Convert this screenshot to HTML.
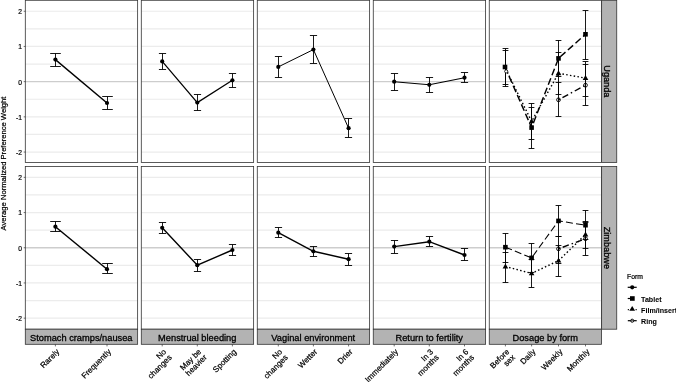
<!DOCTYPE html>
<html><head><meta charset="utf-8"><title>Preference weights</title>
<style>html,body{margin:0;padding:0;background:#fff}svg{display:block}</style></head>
<body>
<svg width="676" height="382" viewBox="0 0 676 382" font-family='"Liberation Sans", Arial, sans-serif' stroke-linecap="butt">
<style>text{stroke:#000;stroke-width:0.22px;fill:#000}</style>
<rect width="676" height="382" fill="#fff"/>
<path d="M25.30 152.05H137.64M25.30 134.45H137.64M25.30 116.85H137.64M25.30 99.25H137.64M25.30 64.05H137.64M25.30 46.45H137.64M25.30 28.85H137.64M25.30 11.25H137.64" stroke="#ececec" stroke-width="1.2" fill="none"/>
<path d="M25.30 81.65H137.64" stroke="#cdcdcd" stroke-width="1.3" fill="none"/>
<path d="M141.29 152.05H253.63M141.29 134.45H253.63M141.29 116.85H253.63M141.29 99.25H253.63M141.29 64.05H253.63M141.29 46.45H253.63M141.29 28.85H253.63M141.29 11.25H253.63" stroke="#ececec" stroke-width="1.2" fill="none"/>
<path d="M141.29 81.65H253.63" stroke="#cdcdcd" stroke-width="1.3" fill="none"/>
<path d="M257.28 152.05H369.62M257.28 134.45H369.62M257.28 116.85H369.62M257.28 99.25H369.62M257.28 64.05H369.62M257.28 46.45H369.62M257.28 28.85H369.62M257.28 11.25H369.62" stroke="#ececec" stroke-width="1.2" fill="none"/>
<path d="M257.28 81.65H369.62" stroke="#cdcdcd" stroke-width="1.3" fill="none"/>
<path d="M373.27 152.05H485.61M373.27 134.45H485.61M373.27 116.85H485.61M373.27 99.25H485.61M373.27 64.05H485.61M373.27 46.45H485.61M373.27 28.85H485.61M373.27 11.25H485.61" stroke="#ececec" stroke-width="1.2" fill="none"/>
<path d="M373.27 81.65H485.61" stroke="#cdcdcd" stroke-width="1.3" fill="none"/>
<path d="M489.26 152.05H601.60M489.26 134.45H601.60M489.26 116.85H601.60M489.26 99.25H601.60M489.26 64.05H601.60M489.26 46.45H601.60M489.26 28.85H601.60M489.26 11.25H601.60" stroke="#ececec" stroke-width="1.2" fill="none"/>
<path d="M489.26 81.65H601.60" stroke="#cdcdcd" stroke-width="1.3" fill="none"/>
<path d="M25.30 318.15H137.64M25.30 300.55H137.64M25.30 282.95H137.64M25.30 265.35H137.64M25.30 230.15H137.64M25.30 212.55H137.64M25.30 194.95H137.64M25.30 177.35H137.64" stroke="#ececec" stroke-width="1.2" fill="none"/>
<path d="M25.30 247.75H137.64" stroke="#cdcdcd" stroke-width="1.3" fill="none"/>
<path d="M141.29 318.15H253.63M141.29 300.55H253.63M141.29 282.95H253.63M141.29 265.35H253.63M141.29 230.15H253.63M141.29 212.55H253.63M141.29 194.95H253.63M141.29 177.35H253.63" stroke="#ececec" stroke-width="1.2" fill="none"/>
<path d="M141.29 247.75H253.63" stroke="#cdcdcd" stroke-width="1.3" fill="none"/>
<path d="M257.28 318.15H369.62M257.28 300.55H369.62M257.28 282.95H369.62M257.28 265.35H369.62M257.28 230.15H369.62M257.28 212.55H369.62M257.28 194.95H369.62M257.28 177.35H369.62" stroke="#ececec" stroke-width="1.2" fill="none"/>
<path d="M257.28 247.75H369.62" stroke="#cdcdcd" stroke-width="1.3" fill="none"/>
<path d="M373.27 318.15H485.61M373.27 300.55H485.61M373.27 282.95H485.61M373.27 265.35H485.61M373.27 230.15H485.61M373.27 212.55H485.61M373.27 194.95H485.61M373.27 177.35H485.61" stroke="#ececec" stroke-width="1.2" fill="none"/>
<path d="M373.27 247.75H485.61" stroke="#cdcdcd" stroke-width="1.3" fill="none"/>
<path d="M489.26 318.15H601.60M489.26 300.55H601.60M489.26 282.95H601.60M489.26 265.35H601.60M489.26 230.15H601.60M489.26 212.55H601.60M489.26 194.95H601.60M489.26 177.35H601.60" stroke="#ececec" stroke-width="1.2" fill="none"/>
<path d="M489.26 247.75H601.60" stroke="#cdcdcd" stroke-width="1.3" fill="none"/>
<path d="M50.2 53.5H60.8M50.2 66.5H60.8M55.5 53.5V66.5M102.2 96.5H112.8M102.2 109.5H112.8M107.5 96.5V109.5" stroke="#000" stroke-width="0.9" fill="none"/>
<path d="M158.9 53.5H166.1M158.9 69.5H166.1M162.5 53.5V69.5M193.9 94.5H201.1M193.9 110.5H201.1M197.5 94.5V110.5M228.9 73.5H236.1M228.9 87.5H236.1M232.5 73.5V87.5" stroke="#000" stroke-width="0.9" fill="none"/>
<path d="M274.9 56.5H282.1M274.9 77.5H282.1M278.5 56.5V77.5M309.9 35.5H317.1M309.9 63.5H317.1M313.5 35.5V63.5M344.9 118.5H352.1M344.9 137.5H352.1M348.5 118.5V137.5" stroke="#000" stroke-width="0.9" fill="none"/>
<path d="M390.9 73.5H398.1M390.9 90.5H398.1M394.5 73.5V90.5M425.9 77.5H433.1M425.9 92.5H433.1M429.5 77.5V92.5M460.9 72.5H468.1M460.9 82.5H468.1M464.5 72.5V82.5" stroke="#000" stroke-width="0.9" fill="none"/>
<path d="M50.2 221.5H60.8M50.2 231.5H60.8M55.5 221.5V231.5M102.2 263.5H112.8M102.2 273.5H112.8M107.5 263.5V273.5" stroke="#000" stroke-width="0.9" fill="none"/>
<path d="M158.9 222.5H166.1M158.9 233.5H166.1M162.5 222.5V233.5M193.9 259.5H201.1M193.9 271.5H201.1M197.5 259.5V271.5M228.9 244.5H236.1M228.9 255.5H236.1M232.5 244.5V255.5" stroke="#000" stroke-width="0.9" fill="none"/>
<path d="M274.9 227.5H282.1M274.9 237.5H282.1M278.5 227.5V237.5M309.9 246.5H317.1M309.9 256.5H317.1M313.5 246.5V256.5M344.9 253.5H352.1M344.9 265.5H352.1M348.5 253.5V265.5" stroke="#000" stroke-width="0.9" fill="none"/>
<path d="M390.9 240.5H398.1M390.9 253.5H398.1M394.5 240.5V253.5M425.9 236.5H433.1M425.9 246.5H433.1M429.5 236.5V246.5M460.9 248.5H468.1M460.9 260.5H468.1M464.5 248.5V260.5" stroke="#000" stroke-width="0.9" fill="none"/>
<path d="M502.6 48.5H508.4M502.6 84.5H508.4M505.5 48.5V84.5M528.6 107.5H534.4M528.6 148.5H534.4M531.5 107.5V148.5M555.6 40.5H561.4M555.6 76.5H561.4M558.5 40.5V76.5M582.6 10.5H588.4M582.6 59.5H588.4M585.5 10.5V59.5" stroke="#000" stroke-width="0.9" fill="none"/>
<path d="M502.6 50.5H508.4M502.6 86.5H508.4M505.5 50.5V86.5M528.6 103.5H534.4M528.6 139.5H534.4M531.5 103.5V139.5M555.6 52.5H561.4M555.6 94.5H561.4M558.5 52.5V94.5M582.6 61.5H588.4M582.6 96.5H588.4M585.5 61.5V96.5" stroke="#000" stroke-width="0.9" fill="none"/>
<path d="M555.6 82.5H561.4M555.6 116.5H561.4M558.5 82.5V116.5M582.6 64.5H588.4M582.6 105.5H588.4M585.5 64.5V105.5" stroke="#000" stroke-width="0.9" fill="none"/>
<path d="M502.6 233.5H508.4M502.6 262.5H508.4M505.5 233.5V262.5M528.6 243.5H534.4M528.6 272.5H534.4M531.5 243.5V272.5M555.6 205.5H561.4M555.6 236.5H561.4M558.5 205.5V236.5M582.6 210.5H588.4M582.6 239.5H588.4M585.5 210.5V239.5" stroke="#000" stroke-width="0.9" fill="none"/>
<path d="M502.6 252.5H508.4M502.6 282.5H508.4M505.5 252.5V282.5M528.6 259.5H534.4M528.6 287.5H534.4M531.5 259.5V287.5M555.6 245.5H561.4M555.6 276.5H561.4M558.5 245.5V276.5M582.6 222.5H588.4M582.6 248.5H588.4M585.5 222.5V248.5" stroke="#000" stroke-width="0.9" fill="none"/>
<path d="M555.6 236.5H561.4M555.6 263.5H561.4M558.5 236.5V263.5M582.6 221.5H588.4M582.6 255.5H588.4M585.5 221.5V255.5" stroke="#000" stroke-width="0.9" fill="none"/>
<path d="M55.4 59.6L107.0 103.0" stroke="#000" stroke-width="1.4" fill="none"/>
<path d="M162.2 61.4L197.3 102.6L232.4 80.3" stroke="#000" stroke-width="1.25" fill="none"/>
<path d="M278.3 66.9L313.4 49.6L348.6 128.2" stroke="#000" stroke-width="1.0" fill="none"/>
<path d="M394.2 81.7L429.3 84.8L464.5 77.7" stroke="#000" stroke-width="1.05" fill="none"/>
<path d="M55.4 226.7L107.0 269.2" stroke="#000" stroke-width="1.4" fill="none"/>
<path d="M162.2 227.8L197.3 265.2L232.4 250.0" stroke="#000" stroke-width="1.4" fill="none"/>
<path d="M278.3 232.7L313.4 251.3L348.6 259.2" stroke="#000" stroke-width="1.4" fill="none"/>
<path d="M394.2 246.6L429.3 241.7L464.5 255.0" stroke="#000" stroke-width="1.4" fill="none"/>
<path d="M505.0 67.0L531.6 127.6L558.5 58.4L585.5 34.3" stroke="#000" stroke-width="1.45" fill="none" stroke-dasharray="7 3.2"/>
<path d="M505.6 68.8L531.6 121.4L558.5 73.3L585.5 78.1" stroke="#000" stroke-width="1.4" fill="none" stroke-dasharray="1.5 2.3"/>
<path d="M558.5 99.8L585.5 85.2" stroke="#000" stroke-width="1.4" fill="none" stroke-dasharray="1.5 3 6.5 3"/>
<path d="M505.4 247.2L531.6 257.9L558.5 220.9L585.5 225.2" stroke="#000" stroke-width="1.05" fill="none" stroke-dasharray="7 3.2"/>
<path d="M505.4 266.5L531.6 273.4L558.5 260.7L585.5 234.5" stroke="#000" stroke-width="1.4" fill="none" stroke-dasharray="1.5 2.3"/>
<path d="M558.5 248.8L585.5 238.7" stroke="#000" stroke-width="1.4" fill="none" stroke-dasharray="1.5 3 6.5 3"/>
<circle cx="55.4" cy="59.6" r="2.1" fill="#000"/>
<circle cx="107.0" cy="103.0" r="2.1" fill="#000"/>
<circle cx="162.2" cy="61.4" r="2.1" fill="#000"/>
<circle cx="197.3" cy="102.6" r="2.1" fill="#000"/>
<circle cx="232.4" cy="80.3" r="2.1" fill="#000"/>
<circle cx="278.3" cy="66.9" r="2.1" fill="#000"/>
<circle cx="313.4" cy="49.6" r="2.1" fill="#000"/>
<circle cx="348.6" cy="128.2" r="2.1" fill="#000"/>
<circle cx="394.2" cy="81.7" r="2.1" fill="#000"/>
<circle cx="429.3" cy="84.8" r="2.1" fill="#000"/>
<circle cx="464.5" cy="77.7" r="2.1" fill="#000"/>
<circle cx="55.4" cy="226.7" r="2.1" fill="#000"/>
<circle cx="107.0" cy="269.2" r="2.1" fill="#000"/>
<circle cx="162.2" cy="227.8" r="2.1" fill="#000"/>
<circle cx="197.3" cy="265.2" r="2.1" fill="#000"/>
<circle cx="232.4" cy="250.0" r="2.1" fill="#000"/>
<circle cx="278.3" cy="232.7" r="2.1" fill="#000"/>
<circle cx="313.4" cy="251.3" r="2.1" fill="#000"/>
<circle cx="348.6" cy="259.2" r="2.1" fill="#000"/>
<circle cx="394.2" cy="246.6" r="2.1" fill="#000"/>
<circle cx="429.3" cy="241.7" r="2.1" fill="#000"/>
<circle cx="464.5" cy="255.0" r="2.1" fill="#000"/>
<rect x="502.7" y="64.7" width="4.6" height="4.6" fill="#000"/>
<rect x="529.3" y="125.3" width="4.6" height="4.6" fill="#000"/>
<rect x="556.2" y="56.1" width="4.6" height="4.6" fill="#000"/>
<rect x="583.2" y="32.0" width="4.6" height="4.6" fill="#000"/>
<path d="M531.6 118.4L534.4 123.3H528.8Z" fill="#000"/>
<path d="M558.5 70.3L561.3 75.2H555.7Z" fill="#000"/>
<path d="M585.5 75.1L588.3 80.0H582.7Z" fill="#000"/>
<circle cx="506.2" cy="71.4" r="1.6" fill="#fff" stroke="#000" stroke-width="0.8"/>
<circle cx="558.5" cy="99.8" r="1.9" fill="none" stroke="#000" stroke-width="0.9"/>
<circle cx="585.5" cy="85.2" r="1.9" fill="none" stroke="#000" stroke-width="0.9"/>
<rect x="503.1" y="244.9" width="4.6" height="4.6" fill="#000"/>
<rect x="529.3" y="255.6" width="4.6" height="4.6" fill="#000"/>
<rect x="556.2" y="218.6" width="4.6" height="4.6" fill="#000"/>
<rect x="583.2" y="222.9" width="4.6" height="4.6" fill="#000"/>
<path d="M505.4 263.5L508.2 268.4H502.6Z" fill="#000"/>
<path d="M531.6 270.4L534.4 275.3H528.8Z" fill="#000"/>
<path d="M558.5 257.7L561.3 262.6H555.7Z" fill="#000"/>
<path d="M585.5 231.5L588.3 236.4H582.7Z" fill="#000"/>
<circle cx="558.5" cy="248.8" r="1.9" fill="none" stroke="#000" stroke-width="0.9"/>
<circle cx="585.5" cy="238.7" r="1.9" fill="none" stroke="#000" stroke-width="0.9"/>
<rect x="25.30" y="0.3" width="112.34" height="162.10" fill="none" stroke="#333" stroke-width="0.8"/>
<rect x="141.29" y="0.3" width="112.34" height="162.10" fill="none" stroke="#333" stroke-width="0.8"/>
<rect x="257.28" y="0.3" width="112.34" height="162.10" fill="none" stroke="#333" stroke-width="0.8"/>
<rect x="373.27" y="0.3" width="112.34" height="162.10" fill="none" stroke="#333" stroke-width="0.8"/>
<rect x="489.26" y="0.3" width="112.34" height="162.10" fill="none" stroke="#333" stroke-width="0.8"/>
<rect x="25.30" y="166.5" width="112.34" height="162.70" fill="none" stroke="#333" stroke-width="0.8"/>
<rect x="141.29" y="166.5" width="112.34" height="162.70" fill="none" stroke="#333" stroke-width="0.8"/>
<rect x="257.28" y="166.5" width="112.34" height="162.70" fill="none" stroke="#333" stroke-width="0.8"/>
<rect x="373.27" y="166.5" width="112.34" height="162.70" fill="none" stroke="#333" stroke-width="0.8"/>
<rect x="489.26" y="166.5" width="112.34" height="162.70" fill="none" stroke="#333" stroke-width="0.8"/>
<rect x="25.30" y="329.2" width="112.34" height="15.1" fill="#b3b3b3" stroke="#333" stroke-width="0.8"/>
<text x="81.27" y="340.6" font-size="9.27" style="stroke-width:0.3px" text-anchor="middle" >Stomach cramps/nausea</text>
<rect x="141.29" y="329.2" width="112.34" height="15.1" fill="#b3b3b3" stroke="#333" stroke-width="0.8"/>
<text x="197.26" y="340.6" font-size="9.27" style="stroke-width:0.3px" text-anchor="middle" >Menstrual bleeding</text>
<rect x="257.28" y="329.2" width="112.34" height="15.1" fill="#b3b3b3" stroke="#333" stroke-width="0.8"/>
<text x="313.25" y="340.6" font-size="9.27" style="stroke-width:0.3px" text-anchor="middle" >Vaginal environment</text>
<rect x="373.27" y="329.2" width="112.34" height="15.1" fill="#b3b3b3" stroke="#333" stroke-width="0.8"/>
<text x="429.24" y="340.6" font-size="9.27" style="stroke-width:0.3px" text-anchor="middle" >Return to fertility</text>
<rect x="489.26" y="329.2" width="112.34" height="15.1" fill="#b3b3b3" stroke="#333" stroke-width="0.8"/>
<text x="545.23" y="340.6" font-size="9.27" style="stroke-width:0.3px" text-anchor="middle" >Dosage by form</text>
<rect x="601.64" y="0.3" width="15.1" height="162.10" fill="#b3b3b3" stroke="#333" stroke-width="0.8"/>
<text transform="translate(604.34 81.35) rotate(90)" font-size="9.2" style="stroke-width:0.3px" text-anchor="middle" >Uganda</text>
<rect x="601.64" y="166.5" width="15.1" height="162.70" fill="#b3b3b3" stroke="#333" stroke-width="0.8"/>
<text transform="translate(604.34 247.85) rotate(90)" font-size="9.2" style="stroke-width:0.3px" text-anchor="middle" >Zimbabwe</text>
<text x="21.9" y="14.15" font-size="6.7" style="stroke-width:0.2px" text-anchor="end" >2</text>
<text x="21.9" y="49.35" font-size="6.7" style="stroke-width:0.2px" text-anchor="end" >1</text>
<text x="21.9" y="84.55" font-size="6.7" style="stroke-width:0.2px" text-anchor="end" >0</text>
<text x="21.9" y="119.75" font-size="6.7" style="stroke-width:0.2px" text-anchor="end" >-1</text>
<text x="21.9" y="154.95" font-size="6.7" style="stroke-width:0.2px" text-anchor="end" >-2</text>
<path d="M23.7 11.25H25.3M23.7 46.45H25.3M23.7 81.65H25.3M23.7 116.85H25.3M23.7 152.05H25.3" stroke="#333" stroke-width="0.7"/>
<text x="21.9" y="180.25" font-size="6.7" style="stroke-width:0.2px" text-anchor="end" >2</text>
<text x="21.9" y="215.45" font-size="6.7" style="stroke-width:0.2px" text-anchor="end" >1</text>
<text x="21.9" y="250.65" font-size="6.7" style="stroke-width:0.2px" text-anchor="end" >0</text>
<text x="21.9" y="285.85" font-size="6.7" style="stroke-width:0.2px" text-anchor="end" >-1</text>
<text x="21.9" y="321.05" font-size="6.7" style="stroke-width:0.2px" text-anchor="end" >-2</text>
<path d="M23.7 177.35H25.3M23.7 212.55H25.3M23.7 247.75H25.3M23.7 282.95H25.3M23.7 318.15H25.3" stroke="#333" stroke-width="0.7"/>
<text transform="translate(6.1 163.5) rotate(-90)" font-size="7.62" text-anchor="middle" >Average Normalized Preference Weight</text>
<g transform="translate(55.4 347.8) rotate(-45)">
<text x="0" y="6.3" font-size="8.0" text-anchor="end" >Rarely</text>
</g>
<g transform="translate(107.0 347.8) rotate(-45)">
<text x="0" y="6.3" font-size="8.0" text-anchor="end" >Frequently</text>
</g>
<g transform="translate(162.2 347.8) rotate(-45)">
<text x="0" y="6.3" font-size="8.0" text-anchor="end" >No</text>
<text x="0" y="14.3" font-size="8.0" text-anchor="end" >changes</text>
</g>
<g transform="translate(197.3 347.8) rotate(-45)">
<text x="0" y="6.3" font-size="8.0" text-anchor="end" >May be</text>
<text x="0" y="14.3" font-size="8.0" text-anchor="end" >heavier</text>
</g>
<g transform="translate(232.4 347.8) rotate(-45)">
<text x="0" y="6.3" font-size="8.0" text-anchor="end" >Spotting</text>
</g>
<g transform="translate(278.3 347.8) rotate(-45)">
<text x="0" y="6.3" font-size="8.0" text-anchor="end" >No</text>
<text x="0" y="14.3" font-size="8.0" text-anchor="end" >changes</text>
</g>
<g transform="translate(313.4 347.8) rotate(-45)">
<text x="0" y="6.3" font-size="8.0" text-anchor="end" >Wetter</text>
</g>
<g transform="translate(348.6 347.8) rotate(-45)">
<text x="0" y="6.3" font-size="8.0" text-anchor="end" >Drier</text>
</g>
<g transform="translate(394.2 347.8) rotate(-45)">
<text x="0" y="6.3" font-size="8.0" text-anchor="end" >Immediately</text>
</g>
<g transform="translate(429.3 347.8) rotate(-45)">
<text x="0" y="6.3" font-size="8.0" text-anchor="end" >In 3</text>
<text x="0" y="14.3" font-size="8.0" text-anchor="end" >months</text>
</g>
<g transform="translate(464.5 347.8) rotate(-45)">
<text x="0" y="6.3" font-size="8.0" text-anchor="end" >In 6</text>
<text x="0" y="14.3" font-size="8.0" text-anchor="end" >months</text>
</g>
<g transform="translate(505.4 347.8) rotate(-45)">
<text x="0" y="6.3" font-size="8.0" text-anchor="end" >Before</text>
<text x="0" y="14.3" font-size="8.0" text-anchor="end" >sex</text>
</g>
<g transform="translate(531.6 347.8) rotate(-45)">
<text x="0" y="6.3" font-size="8.0" text-anchor="end" >Daily</text>
</g>
<g transform="translate(558.5 347.8) rotate(-45)">
<text x="0" y="6.3" font-size="8.0" text-anchor="end" >Weekly</text>
</g>
<g transform="translate(585.5 347.8) rotate(-45)">
<text x="0" y="6.3" font-size="8.0" text-anchor="end" >Monthly</text>
</g>
<path d="M55.4 344.3V346.4M107.0 344.3V346.4M162.2 344.3V346.4M197.3 344.3V346.4M232.4 344.3V346.4M278.3 344.3V346.4M313.4 344.3V346.4M348.6 344.3V346.4M394.2 344.3V346.4M429.3 344.3V346.4M464.5 344.3V346.4M505.4 344.3V346.4M531.6 344.3V346.4M558.5 344.3V346.4M585.5 344.3V346.4" stroke="#333" stroke-width="0.7"/>
<text x="627" y="278.5" font-size="6.8">Form</text>
<path d="M627.7 287.3H636.7" stroke="#000" stroke-width="1.2"/>
<circle cx="632.2" cy="287.3" r="2.1" fill="#000"/>
<path d="M627.7 298.5H631" stroke="#000" stroke-width="1.2"/>
<rect x="630.0" y="296.2" width="4.7" height="4.6" fill="#000"/>
<path d="M627.8 309.7H628.9M635.6 309.7H636.7" stroke="#000" stroke-width="1.2"/>
<path d="M632.2 305.9L635.1 310.7H629.3000000000001Z" fill="#000"/>
<path d="M627.8 320.7H636.7" stroke="#000" stroke-width="1.2"/>
<circle cx="632.2" cy="320.7" r="1.55" fill="#fff" stroke="#000" stroke-width="0.95"/>
<path d="M630.8 320.7H633.6" stroke="#222" stroke-width="0.8"/>
<text x="641.1" y="301.5" font-size="7.12" font-weight="bold" style="stroke-width:0.05px">Tablet</text>
<text x="641.1" y="312.7" font-size="7.12" font-weight="bold" style="stroke-width:0.05px">Film/insert</text>
<text x="641.1" y="323.7" font-size="7.12" font-weight="bold" style="stroke-width:0.05px">Ring</text>
</svg>
</body></html>
